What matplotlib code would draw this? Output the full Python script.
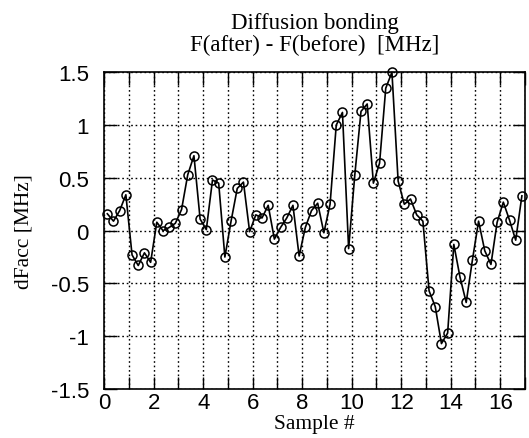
import matplotlib
matplotlib.use("Agg")
from matplotlib import pyplot as plt
from matplotlib.ticker import MultipleLocator

# sample positions and frequency change
sample = [0.125, 0.375, 0.625, 0.875, 1.125, 1.375, 1.625, 1.875,
          2.125, 2.375, 2.625, 2.875, 3.125, 3.375, 3.625, 3.875,
          4.125, 4.375, 4.625, 4.875, 5.125, 5.375, 5.625, 5.875,
          6.125, 6.375, 6.625, 6.875, 7.125, 7.375, 7.625, 7.875,
          8.125, 8.375, 8.625, 8.875, 9.125, 9.375, 9.625, 9.875,
          10.125, 10.375, 10.625, 10.875, 11.125, 11.375, 11.625, 11.875,
          12.125, 12.375, 12.625, 12.875, 13.125, 13.375, 13.625, 13.875,
          14.125, 14.375, 14.625, 14.875, 15.125, 15.375, 15.625, 15.875,
          16.125, 16.375, 16.625, 16.875]
dfacc = [0.16, 0.09, 0.19, 0.34, -0.23, -0.33, -0.21, -0.30,
         0.08, 0.00, 0.03, 0.07, 0.20, 0.53, 0.71, 0.11,
         0.01, 0.48, 0.45, -0.25, 0.09, 0.40, 0.46, -0.01,
         0.15, 0.12, 0.24, -0.08, 0.03, 0.12, 0.24, -0.24,
         0.03, 0.19, 0.26, -0.02, 0.25, 1.00, 1.12, -0.17,
         0.53, 1.13, 1.20, 0.45, 0.64, 1.35, 1.50, 0.47,
         0.25, 0.30, 0.15, 0.09, -0.57, -0.72, -1.07, -0.97,
         -0.13, -0.44, -0.68, -0.28, 0.09, -0.19, -0.32, 0.08,
         0.27, 0.10, -0.09, 0.33]

serif = ["Liberation Serif", "DejaVu Serif"]
sans = ["Liberation Sans", "DejaVu Sans"]

fig = plt.figure(figsize=(5.29, 4.39), dpi=100)
ax = fig.add_axes([0.197, 0.1116, 0.7954, 0.7214])

ax.plot(sample, dfacc, color="black", linewidth=1.2, marker="o",
        markersize=6.5, markerfacecolor="none", markeredgecolor="black",
        markeredgewidth=1.1, clip_on=False, zorder=3)

ax.set_xlim(0, 17)
ax.set_ylim(-1.5, 1.5)
ax.xaxis.set_major_locator(MultipleLocator(2))
ax.xaxis.set_minor_locator(MultipleLocator(1))
ax.yaxis.set_major_locator(MultipleLocator(0.5))
ax.yaxis.set_major_formatter(plt.FuncFormatter(lambda v, p: "%g" % v))

ax.grid(True, which="both", color="black", linestyle=(0, (1.2, 2.0)),
        linewidth=1.0)
ax.tick_params(which="both", direction="in", top=True, right=True,
               length=9, width=1.0, color="black")
ax.tick_params(axis="y", which="major", labelsize=16, pad=11)
ax.tick_params(axis="x", which="major", labelsize=16, pad=2)
for lab in ax.get_xticklabels() + ax.get_yticklabels():
    lab.set_family(sans)
for s in ax.spines.values():
    s.set_linewidth(1.2)

ax.set_title("Diffusion bonding\nF(after) - F(before)  [MHz]",
             family=serif, fontsize=16.5, pad=16, linespacing=1.05)
ax.set_xlabel("Sample #", family=serif, fontsize=15.5, labelpad=1)
ax.set_ylabel("dFacc [MHz]", family=serif, fontsize=15.5, labelpad=12)

fig.savefig("out.png", dpi=100)
